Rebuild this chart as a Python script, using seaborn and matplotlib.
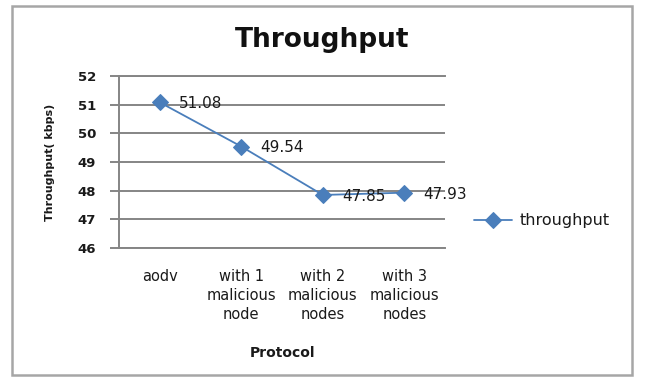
import matplotlib
matplotlib.use("Agg")
import matplotlib.pyplot as plt
import seaborn as sns
import pandas as pd
from matplotlib.patches import Rectangle

categories = ["aodv", "with 1\nmalicious\nnode", "with 2\nmalicious\nnodes", "with 3\nmalicious\nnodes"]
throughput = [51.08, 49.54, 47.85, 47.93]
value_labels = ["51.08", "49.54", "47.85", "47.93"]
y_ticks = [46, 47, 48, 49, 50, 51, 52]
series_name = "throughput"

sns.set_theme(style="white")
plt.rcParams['font.family'] = ['DejaVu Sans']

df = pd.DataFrame({"Protocol": list(range(len(categories))), "Throughput": throughput})

fig = plt.figure(figsize=(6.45, 3.83), dpi=100)
ax = fig.add_axes([0.1845, 0.3525, 0.5055, 0.4491])

blue = "#4A7EBB"
grid_gray = "#858585"
text_col = "#1A1A1A"

sns.lineplot(data=df, x="Protocol", y="Throughput", ax=ax, color=blue, marker="D",
             markersize=8.5, markeredgecolor=blue, linewidth=1.3, label=series_name)

ax.set_ylim(46, 52)
ax.set_xlim(-0.5, len(categories) - 0.5)
ax.set_yticks(y_ticks)
ax.set_yticklabels([str(t) for t in y_ticks], fontsize=9.5, fontweight="bold", color=text_col)
ax.set_xticks(range(len(categories)))
ax.set_xticklabels(categories, fontsize=10.5, color=text_col, linespacing=1.35)
ax.tick_params(axis="x", length=0, pad=15)
ax.tick_params(axis="y", length=6.5, width=1.4, color=grid_gray, pad=10, direction="out", left=True)

ax.yaxis.grid(True, color=grid_gray, linewidth=1.4)
ax.xaxis.grid(False)
ax.set_axisbelow(True)
ax.spines["right"].set_visible(False)
for side in ["left", "bottom", "top"]:
    ax.spines[side].set_color(grid_gray)
    ax.spines[side].set_linewidth(1.4)

ax.set_xlabel("Protocol", fontsize=10, fontweight="bold", labelpad=17, color=text_col)
ax.set_ylabel("Throughput( kbps)", fontsize=8, fontweight="bold", labelpad=16, color=text_col)

for i, (v, lab) in enumerate(zip(throughput, value_labels)):
    ax.annotate(lab, (i, v), xytext=(14, -1), textcoords="offset points",
                ha="left", va="center", fontsize=11, color=text_col)

fig.text(0.5, 0.895, "Throughput", ha="center", va="center", fontsize=19,
         fontweight="bold", color="#111111")

leg = ax.legend(loc="center left", bbox_to_anchor=(0.735, 0.423), bbox_transform=fig.transFigure,
                frameon=False, fontsize=11.5, handlelength=2.4, handletextpad=0.45,
                borderpad=0, borderaxespad=0)
for t in leg.get_texts():
    t.set_color(text_col)

fig.patches.append(Rectangle((0.019, 0.021), 0.961, 0.963, transform=fig.transFigure,
                             fill=False, edgecolor="#A6A6A6", linewidth=1.8))

fig.savefig("out.png", dpi=100)
